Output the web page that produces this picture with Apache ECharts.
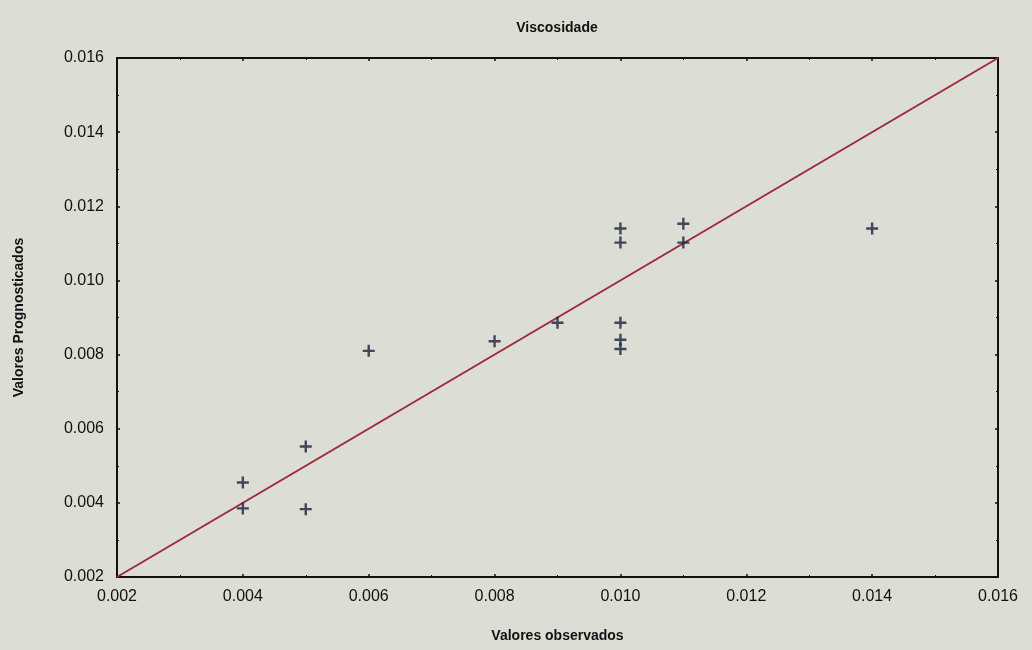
<!DOCTYPE html>
<html>
<head>
<meta charset="utf-8">
<script src="https://cdn.jsdelivr.net/npm/echarts@6/dist/echarts.min.js"></script>
<style>
  html, body { margin: 0; padding: 0; background: #dcddd5; }
  #chart { width: 1032px; height: 650px; }
</style>
</head>
<body>
<div id="chart"></div>
<script>
// observed vs predicted viscosity
const observed = [0.004, 0.004, 0.005, 0.005, 0.006, 0.008, 0.009, 0.010, 0.010, 0.010, 0.010, 0.010, 0.011, 0.011, 0.014]
const predicted = [0.00455, 0.00385, 0.00552, 0.00383, 0.0081, 0.00836, 0.00886, 0.0114, 0.01102, 0.00886, 0.0084, 0.00815, 0.01153, 0.01102, 0.0114]
const identityLine = [[0.002, 0.002], [0.016, 0.016]]

const chart = echarts.init(document.getElementById('chart'))

const font = 'Liberation Sans, Arial, sans-serif'
const plus = 'path://M4,0H6V4H10V6H6V10H4V6H0V4H4Z'

const axisCommon = {
  type: 'value',
  min: 0.002,
  max: 0.016,
  interval: 0.002,
  axisLine: { show: true, onZero: false, lineStyle: { color: '#111', width: 2 } },
  axisTick: { show: true, inside: true, length: 3, lineStyle: { color: '#111', width: 1.5 } },
  minorTick: { show: true, splitNumber: 2, length: 2, lineStyle: { color: '#111' } },
  splitLine: { show: false }
}

const option = {
  backgroundColor: '#dcddd5',
  animation: false,
  title: {
    text: 'Viscosidade',
    left: 552,
    top: 16,
    textAlign: 'center',
    textStyle: { fontFamily: font, fontSize: 14, fontWeight: 'bold', color: '#111' }
  },
  grid: { left: 117, right: 34, top: 58, bottom: 73 },
  xAxis: [
    Object.assign({}, axisCommon, {
      position: 'bottom',
      name: 'Valores observados',
      nameLocation: 'middle',
      nameGap: 52,
      nameTextStyle: { fontFamily: font, fontSize: 14, fontWeight: 'bold', color: '#111' },
      axisLabel: { fontFamily: font, fontSize: 16, color: '#111', margin: 12,
        formatter: v => v.toFixed(3) }
    }),
    Object.assign({}, axisCommon, { position: 'top', axisLabel: { show: false } })
  ],
  yAxis: [
    Object.assign({}, axisCommon, {
      position: 'left',
      name: 'Valores Prognosticados',
      nameLocation: 'middle',
      nameGap: 91,
      nameTextStyle: { fontFamily: font, fontSize: 14, fontWeight: 'bold', color: '#111' },
      axisLabel: { fontFamily: font, fontSize: 16, color: '#111', margin: 13,
        formatter: v => v.toFixed(3) }
    }),
    Object.assign({}, axisCommon, { position: 'right', axisLabel: { show: false } })
  ],
  series: [
    {
      type: 'line',
      data: identityLine,
      symbol: 'none',
      lineStyle: { color: '#9c2a3a', width: 2 },
      z: 2
    },
    {
      type: 'scatter',
      data: observed.map((x, i) => [x, predicted[i]]),
      symbol: plus,
      symbolSize: 12,
      itemStyle: { color: '#18223a' },
      z: 3
    }
  ]
}

chart.setOption(option)
</script>
</body>
</html>
